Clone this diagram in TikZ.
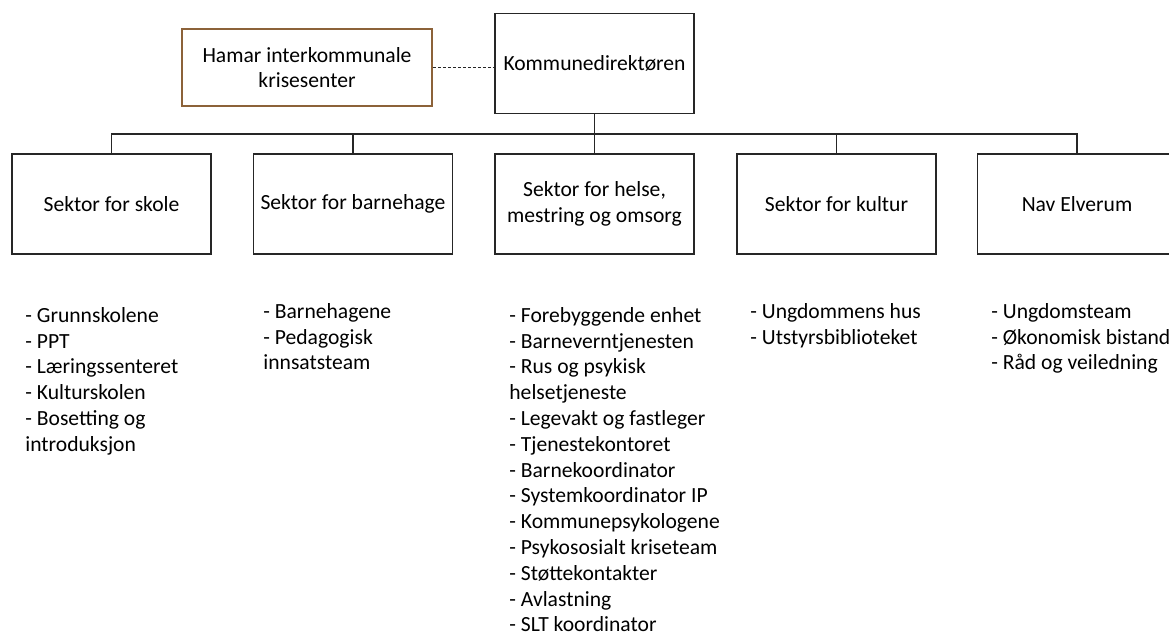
\documentclass[tikz,border=0pt]{standalone}
\usepackage{fontspec}
\setmainfont{Carlito}
\usetikzlibrary{calc}
\definecolor{crisis-brown}{RGB}{140, 98, 57}

\tikzset{
  orgbox/.style={draw=black!85, line width=0.75pt, inner sep=0pt, align=center,
    minimum width=99.5pt, minimum height=50pt, font=\fontsize{10.8}{12.9}\selectfont},
  crisisbox/.style={orgbox, draw=crisis-brown, minimum width=125pt, minimum height=38.5pt},
  itemlist/.style={inner sep=0pt, align=left, anchor=north west, font=\fontsize{10.8}{12.9}\selectfont},
  orgline/.style={draw=black!85, line width=0.75pt},
  dotlink/.style={draw=black!85, line width=0.75pt, dash pattern=on 1.5pt off 1pt}
}

\begin{document}
\begin{tikzpicture}[x=0.5pt, y=-0.5pt]
\useasboundingbox (0,0) rectangle (1169,635);

\node[orgbox] (direktor) at (594.5,63.5) {Kommunedirektøren};
\node[crisisbox] (hamar) at (307,67.5) {Hamar interkommunale\\krisesenter};

\node[orgbox] (skole) at (111.5,204) {Sektor for skole};
\node[orgbox] (barnehage) at (353,204) {Sektor for barnehage};
\node[orgbox] (helse) at (594.5,204) {Sektor for helse,\\mestring og omsorg};
\node[orgbox] (kultur) at (836.5,204) {Sektor for kultur};
\node[orgbox] (nav) at (1077,204) {Nav Elverum};

\coordinate (bus) at (594.5,134);
\draw[dotlink] (hamar.east) -- (hamar.east -| direktor.west);
\draw[orgline] (direktor.south) -- (helse.north);
\draw[orgline] (skole.north) |- (bus) -| (nav.north);
\draw[orgline] (barnehage.north) -- (barnehage.north |- bus);
\draw[orgline] (kultur.north) -- (kultur.north |- bus);

\node[itemlist] (skoleliste) at (25,307) {- Grunnskolene\\- PPT\\- Læringssenteret\\- Kulturskolen\\- Bosetting og\\introduksjon};
\node[itemlist] (barnehageliste) at (263,303) {- Barnehagene\\- Pedagogisk\\innsatsteam};
\node[itemlist] (helseliste) at (509,307) {- Forebyggende enhet\\- Barneverntjenesten\\- Rus og psykisk\\helsetjeneste\\- Legevakt og fastleger\\- Tjenestekontoret\\- Barnekoordinator\\- Systemkoordinator IP\\- Kommunepsykologene\\- Psykososialt kriseteam\\- Støttekontakter\\- Avlastning\\- SLT koordinator};
\node[itemlist] (kulturliste) at (750,303) {- Ungdommens hus\\- Utstyrsbiblioteket};
\node[itemlist] (navliste) at (991,303) {- Ungdomsteam\\- Økonomisk bistand\\- Råd og veiledning};
\end{tikzpicture}
\end{document}
